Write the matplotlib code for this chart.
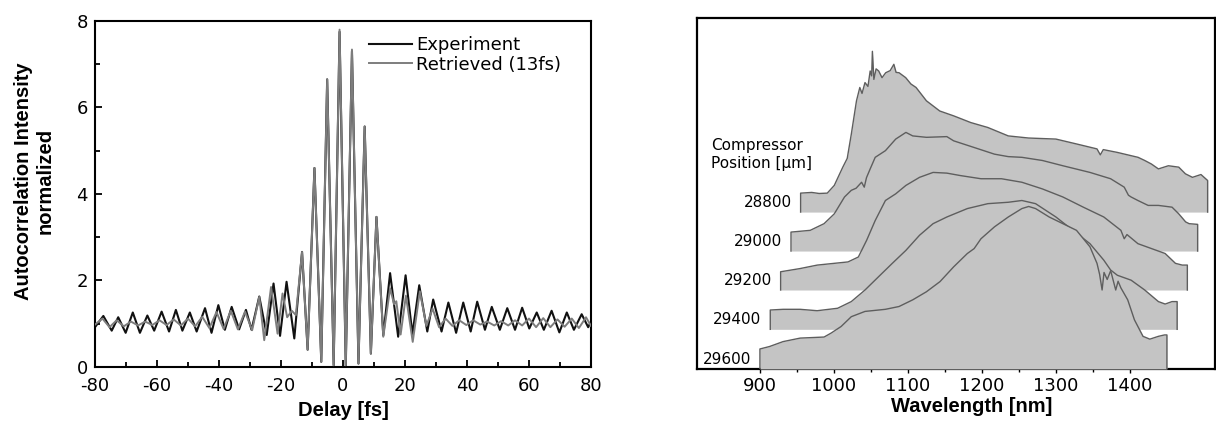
import matplotlib
matplotlib.use('Agg')
import matplotlib.pyplot as plt
from matplotlib.ticker import MultipleLocator, FixedLocator

plt.rcParams['axes.unicode_minus'] = False
plt.rcParams['font.family'] = ['DejaVu Sans']

# --- left panel: autocorrelation trace (peaks / troughs)
exp_delay = [-80, -77.3, -74.6, -72.5, -70.1, -67.8, -65.5, -63.1, -60.9, -58.5,
             -56.1, -53.9, -51.8, -49.4, -47.2, -44.5, -42.4, -40.2, -38.1, -35.9,
             -33.5, -31.3, -29.5, -27.0, -24.6, -22.4, -20.3, -18.2, -15.7, -13.2,
             -11.4, -9.2, -7.0, -5.1, -3.0, -1.1, 0.9, 2.9, 5.0, 7.0,
             9.0, 10.8, 13.0, 15.2, 17.8, 20.2, 22.4, 24.6, 27.2, 29.1,
             31.8, 34.0, 36.5, 38.8, 41.2, 43.3, 45.8, 48.0, 50.6, 53.0,
             55.5, 57.8, 60.1, 62.5, 64.8, 67.3, 69.8, 72.2, 74.5, 77.0,
             79.1, 80]
exp_value = [0.92, 1.18, 0.84, 1.15, 0.79, 1.26, 0.79, 1.19, 0.84, 1.28,
             0.82, 1.32, 0.84, 1.26, 0.82, 1.36, 0.79, 1.43, 0.86, 1.39,
             0.87, 1.32, 0.86, 1.63, 0.74, 1.93, 0.72, 1.97, 0.66, 2.66,
             0.40, 4.60, 0.12, 6.65, 0.04, 7.75, 0.02, 7.30, 0.08, 5.56,
             0.31, 3.47, 0.73, 2.17, 0.70, 2.12, 0.76, 1.89, 0.82, 1.56,
             0.82, 1.49, 0.79, 1.49, 0.82, 1.51, 0.86, 1.39, 0.86, 1.36,
             0.86, 1.37, 0.89, 1.26, 0.86, 1.30, 0.80, 1.26, 0.86, 1.22,
             0.92, 1.05]

ret_delay = [-80.0, -77.6, -75.3, -73.0, -70.7, -68.4, -66.1, -63.8, -61.5, -59.2,
             -56.9, -54.6, -52.3, -50.0, -47.7, -45.4, -43.1, -40.8, -38.5, -36.2,
             -33.9, -31.6, -29.3, -27.0, -25.4, -23.2, -21.1, -19.5, -18.0, -16.5,
             -15.2, -13.2, -11.4, -9.2, -7.0, -5.1, -3.0, -1.1, 0.9, 2.9,
             5.0, 7.0, 9.0, 10.8, 13.0, 15.2, 16.5, 17.2, 18.6, 20.3,
             22.5, 24.8, 26.9, 28.9, 31.0, 33.1, 35.3, 37.5, 39.8, 42.0,
             44.3, 46.5, 48.8, 51.0, 53.3, 55.5, 57.8, 60.0, 62.3, 64.6,
             66.9, 69.2, 71.5, 73.8, 76.1, 78.4, 80.0]
ret_value = [0.98, 1.12, 0.92, 1.08, 0.94, 1.05, 0.96, 1.05, 0.97, 1.08,
             0.97, 1.10, 0.96, 1.12, 0.94, 1.16, 0.90, 1.27, 0.88, 1.30,
             0.87, 1.28, 0.85, 1.62, 0.62, 1.85, 0.77, 1.70, 1.15, 1.30,
             1.20, 2.66, 0.40, 4.60, 0.12, 6.65, 0.04, 7.80, 0.04, 7.34,
             0.08, 5.56, 0.31, 3.47, 0.70, 1.82, 1.45, 1.52, 0.75, 1.65,
             0.58, 1.75, 0.95, 1.35, 0.92, 1.12, 0.95, 1.08, 0.97, 1.08,
             0.98, 1.05, 0.96, 1.06, 0.96, 1.08, 0.96, 1.12, 0.92, 1.13,
             0.92, 1.10, 0.93, 1.12, 0.90, 1.15, 0.95]

# --- right panel: spectra at each compressor position (back to front)
positions = ['28800', '29000', '29200', '29400', '29600']
offsets = [44.7, 33.6, 22.5, 11.3, 0.0]

wl_28800 = [955, 970, 980, 991, 1000.5, 1012, 1018, 1023.5, 1030.5, 1035, 1038, 1042,
            1046, 1049, 1051, 1052, 1054, 1057, 1060.5, 1065, 1070, 1076, 1081, 1084,
            1088, 1097, 1104, 1111, 1125, 1143, 1162, 1185, 1208, 1235.6, 1263, 1300,
            1328, 1355.5, 1360, 1364, 1383, 1411, 1420, 1429, 1438.5, 1452, 1466, 1475,
            1484.5, 1496, 1505]
in_28800 = [5.4, 5.6, 5.3, 5.4, 7.6, 12.8, 15.3, 22.2, 31.7, 35.5, 33.8, 36.9,
            35.8, 40.2, 38.8, 45.8, 37.8, 40.8, 40.2, 38.3, 39.7, 40.3, 42.1, 39.8,
            39.7, 38.3, 36.5, 35.5, 31.7, 28.8, 27.4, 25.5, 24.1, 21.7, 21.1, 20.8,
            19.4, 18.0, 16.3, 17.8, 17.0, 15.6, 14.7, 13.7, 12.3, 13.2, 12.8, 10.9,
            9.9, 10.7, 9.0]

wl_29000 = [942, 968, 986.7, 1000.5, 1014.3, 1023.5, 1030, 1037.4, 1041, 1044, 1049,
            1055.8, 1069.6, 1083.5, 1097.3, 1106.5, 1125, 1152.6, 1161.8, 1189.5, 1217,
            1235.6, 1254, 1281.7, 1309.4, 1346, 1373.9, 1392.3, 1398, 1401.6, 1410.8,
            1424.6, 1438.5, 1456.9, 1466, 1475.3, 1480, 1491.5]
in_29000 = [5.4, 5.9, 7.8, 10.6, 15.4, 17.3, 17.9, 19.6, 18.2, 20.9, 23.4,
            26.7, 28.6, 31.9, 33.8, 32.8, 32.4, 32.6, 31.4, 29.5, 27.6,
            26.9, 26.7, 25.8, 24.3, 22.4, 20.6, 18.2, 15.9, 15.4, 14.4,
            13.0, 13.0, 12.5, 10.6, 8.3, 7.8, 7.6]

wl_29200 = [928, 954, 977.5, 1000.5, 1019, 1033, 1044.3, 1055.8, 1069.6, 1083.5, 1097.3,
            1115.7, 1134, 1152.6, 1171, 1198.7, 1226.4, 1254, 1281.7, 1309.4, 1337,
            1364.7, 1387.8, 1392.3, 1396, 1410.8, 1429.2, 1447.6, 1461.5, 1470.7, 1477.6]
in_29200 = [5.2, 6.1, 7.1, 7.6, 8.0, 9.4, 14.2, 19.8, 25.5, 27.4, 29.8,
            32.1, 33.5, 33.3, 32.6, 31.7, 31.7, 30.7, 28.8, 26.5, 23.6,
            20.8, 17.0, 14.6, 15.8, 13.2, 11.8, 10.4, 7.6, 7.1, 7.1]

wl_29400 = [914, 931.3, 954.4, 977.4, 1005, 1023.5, 1042, 1060.4, 1078.9, 1097.3, 1115.7,
            1134, 1152.6, 1180.3, 1208, 1235.6, 1254, 1272.5, 1300, 1323, 1346,
            1364.7, 1373.9, 1383, 1401.6, 1420, 1438.5, 1447.6, 1456.9, 1463.8]
in_29400 = [5.5, 5.7, 5.7, 5.3, 6.0, 7.9, 11.2, 15.0, 18.8, 22.5, 26.8,
            30.1, 32.0, 34.4, 35.8, 36.2, 36.7, 35.8, 32.0, 28.2, 24.4,
            19.7, 16.9, 15.4, 14.0, 11.2, 7.9, 7.2, 7.9, 7.9]

wl_29600 = [900, 913, 931.3, 954.4, 986.7, 996, 1009.7, 1023.5, 1042, 1069.6, 1088,
            1106.5, 1125, 1143.4, 1161.8, 1180.3, 1189.5, 1198.7, 1217, 1235.6, 1254,
            1263.2, 1272.5, 1290.9, 1309.4, 1327.8, 1346, 1355.5, 1359, 1362.4, 1365,
            1369.3, 1374, 1380.8, 1384, 1387.8, 1397, 1406.1, 1417.7, 1426.9, 1438.5,
            1446.7, 1450]
in_29600 = [5.7, 6.4, 7.8, 8.8, 9.1, 10.2, 12.1, 14.9, 16.4, 17.0, 17.8,
            19.7, 22.0, 24.9, 29.1, 32.9, 34.3, 37.1, 40.5, 43.3, 45.7,
            46.3, 45.7, 43.3, 41.4, 39.5, 34.8, 30.1, 27.0, 22.5, 27.5,
            25.5, 28.0, 22.5, 25.0, 23.1, 19.7, 14.0, 9.3, 8.5, 9.3,
            9.7, 9.7]

spectra_wl = [wl_28800, wl_29000, wl_29200, wl_29400, wl_29600]
spectra_in = [in_28800, in_29000, in_29200, in_29400, in_29600]

fig = plt.figure(figsize=(12.16, 4.25), dpi=100)

# ---------------- left
ax1 = fig.add_axes([0.0781, 0.1365, 0.4079, 0.8141])
ax1.plot(exp_delay, exp_value, color='#111111', lw=1.5, label='Experiment',
         solid_joinstyle='round', zorder=2)
ax1.plot(ret_delay, ret_value, color='#7d7d7d', lw=1.4, label='Retrieved (13fs)',
         solid_joinstyle='round', zorder=3)
ax1.set_xlim(-80, 80)
ax1.set_ylim(0, 8)
ax1.xaxis.set_major_locator(MultipleLocator(20))
ax1.xaxis.set_minor_locator(MultipleLocator(10))
ax1.yaxis.set_major_locator(MultipleLocator(2))
ax1.yaxis.set_minor_locator(MultipleLocator(1))
ax1.tick_params(which='both', direction='in', width=1.3, labelsize=13, pad=5,
                top=False, right=False)
ax1.tick_params(axis='x', which='both', pad=7.5)
ax1.tick_params(which='major', length=5)
ax1.tick_params(which='minor', length=3.5)
for sp in ax1.spines.values():
    sp.set_linewidth(1.5)
ax1.set_xlabel('Delay [fs]', family='Liberation Sans', fontweight='bold',
               fontsize=14.5, labelpad=4)
fig.text(0.028, 0.574, 'Autocorrelation Intensity\nnormalized', rotation=90,
         ha='center', va='center', family='Liberation Sans', fontweight='bold',
         fontsize=14.5, linespacing=1.2)
ax1.legend(loc='upper left', bbox_to_anchor=(0.538, 0.978), frameon=False,
           fontsize=13, handlelength=2.4, handletextpad=0.2, labelspacing=0.1,
           borderaxespad=0)

# ---------------- right
ax2 = fig.add_axes([0.5732, 0.1318, 0.4260, 0.8259])
fill_col = '#c4c4c4'
edge_col = '#5e5e5e'
for k in range(len(positions)):
    wl = spectra_wl[k]
    base = offsets[k]
    top = [base + v for v in spectra_in[k]]
    ax2.fill_between(wl, base, top, color=fill_col, lw=0, zorder=2 + 2 * k)
    ax2.plot([wl[0]] + wl + [wl[-1]], [base] + top + [base], color=edge_col,
             lw=1.0, zorder=3 + 2 * k)
    ax2.text(wl[0] - 12, base + 2.8, positions[k], ha='right', va='center',
             fontsize=11, zorder=20)
ax2.text(834, 61.1, 'Compressor\nPosition [\u03bcm]', ha='left', va='center',
         fontsize=11, linespacing=1.25)
ax2.set_xlim(815, 1515)
ax2.set_ylim(0, 100)
ax2.xaxis.set_major_locator(FixedLocator([900, 1000, 1100, 1200, 1300, 1400]))
ax2.xaxis.set_minor_locator(FixedLocator([950, 1050, 1150, 1250, 1350]))
ax2.set_yticks([])
ax2.tick_params(axis='x', which='both', direction='out', width=1.0, labelsize=13, pad=3)
ax2.tick_params(axis='x', which='major', length=3)
ax2.tick_params(axis='x', which='minor', length=2)
for sp in ax2.spines.values():
    sp.set_linewidth(1.6)
ax2.set_xlabel('Wavelength [nm]', family='Liberation Sans', fontweight='bold',
               fontsize=14.5, labelpad=5)
ax2.xaxis.set_label_coords(0.531, -0.08)

fig.savefig('out.png', dpi=100)
